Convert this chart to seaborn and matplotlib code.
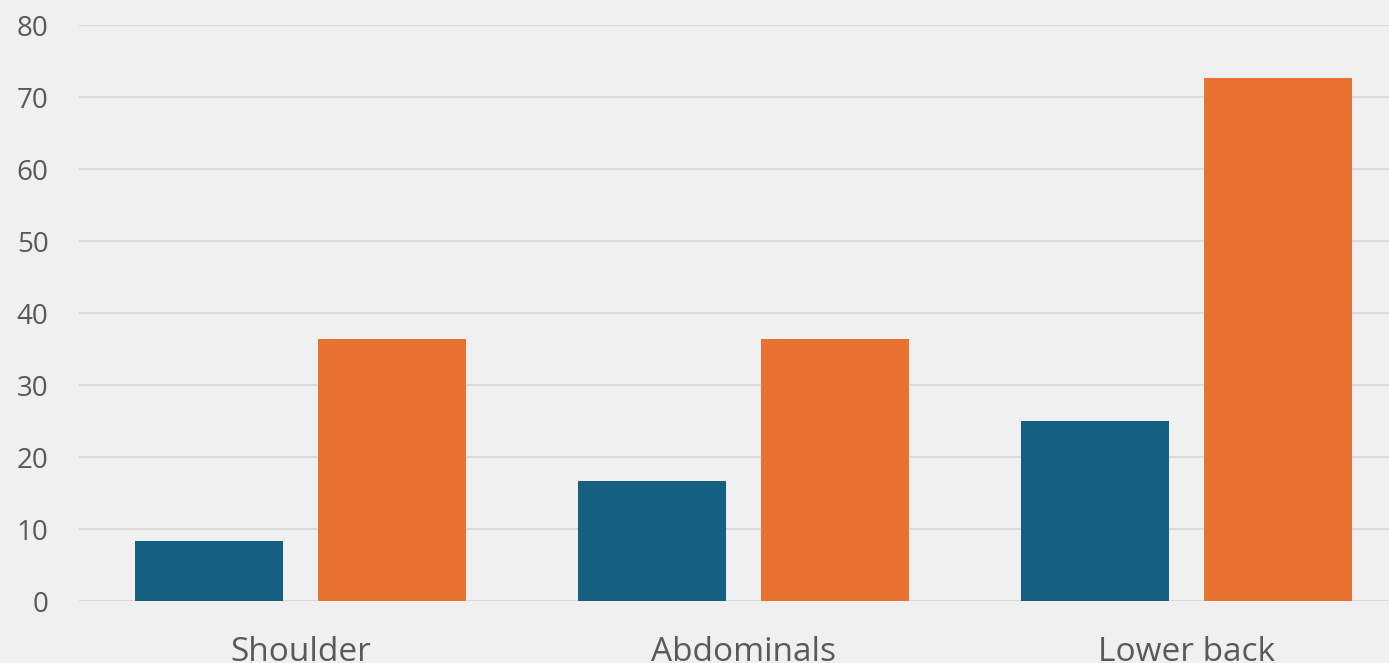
import matplotlib
matplotlib.use("Agg")
import matplotlib.pyplot as plt
import seaborn as sns
import pandas as pd

categories = ["Shoulder", "Abdominals", "Lower back"]
series_names = ["Series 1", "Series 2"]
series1 = [8.3, 16.7, 25.0]
series2 = [36.4, 36.4, 72.7]
yticks = [0, 10, 20, 30, 40, 50, 60, 70, 80]

colors = ["#156082", "#E97132"]
bg = "#F0F0F0"
grid = "#D9D9D9"
txt = "#595959"

df = pd.DataFrame({
    "category": categories * 2,
    "series": [series_names[0]] * 3 + [series_names[1]] * 3,
    "value": series1 + series2,
})

sns.set_theme(style="white")
plt.rcParams["font.family"] = ["Open Sans", "DejaVu Sans"]

fig = plt.figure(figsize=(13.89, 6.63), dpi=100, facecolor=bg)
ax = fig.add_axes([79 / 1389, 62 / 663, 1329 / 1389, 576 / 663])
ax.set_facecolor(bg)

sns.barplot(data=df, x="category", y="value", hue="series", order=categories,
            hue_order=series_names, palette=colors, width=0.83, gap=0.195,
            saturation=1, ax=ax, legend=False, zorder=3, linewidth=0)

ax.set_ylim(0, 80)
ax.set_xlim(-0.5, 2.5)
ax.set_yticks(yticks)
ax.set_yticklabels([str(t) for t in yticks])
ax.yaxis.grid(True, color=grid, linewidth=1.5, zorder=0)
ax.set_axisbelow(True)
for s in ax.spines.values():
    s.set_visible(False)
ax.tick_params(axis="y", length=0, pad=22, labelsize=20, labelcolor=txt)
ax.tick_params(axis="x", length=0, pad=25, labelsize=24, labelcolor=txt)
ax.set_xlabel("")
ax.set_ylabel("")

fig.savefig("out.png", dpi=100, facecolor=bg)
